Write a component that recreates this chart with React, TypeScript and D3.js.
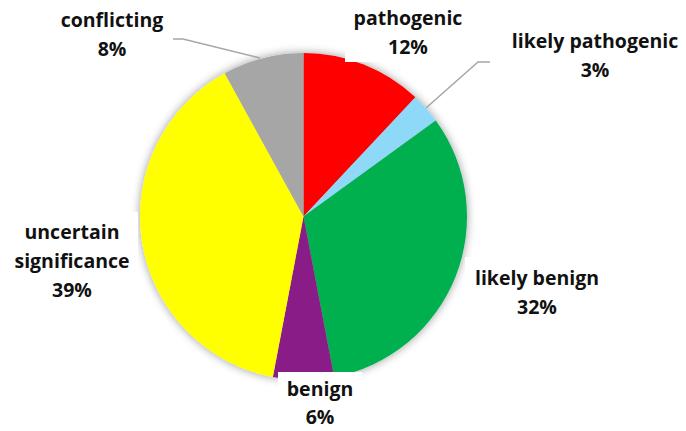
import React from "react";
import * as d3 from "d3";

const categories = ["pathogenic", "likely pathogenic", "likely benign", "benign", "uncertain significance", "conflicting"];
const values = [12, 3, 32, 6, 39, 8];
const colors = ["#FF0000", "#8ED8F8", "#00B050", "#8A1B87", "#FFFF00", "#A6A6A6"];

// label lines (text per row) and placement for each slice label
const labelLines = [
  ["pathogenic", "12%"],
  ["likely pathogenic", "3%"],
  ["likely benign", "32%"],
  ["benign", "6%"],
  ["uncertain", "significance", "39%"],
  ["conflicting", "8%"],
];
const labelPos: [number, number][] = [
  [408, 25],
  [595, 48],
  [537, 285],
  [320, 396],
  [72, 239],
  [112, 27],
];
const labelBox: [number, number, number, number][] = [
  [345, 0, 132, 62],
  [505, 28, 178, 58],
  [465, 257, 150, 66],
  [278, 372, 84, 59],
  [8, 212, 130, 94],
  [52, 4, 120, 60],
];
// leader lines: [elbow start, elbow, slice end]
const leaders: Record<number, [number, number][]> = {
  1: [[490, 62], [478, 62], [426, 108]],
  5: [[173, 39], [183, 39], [260, 58]],
};

const W = 686;
const H = 431;
const cx = 303.5;
const cy = 216.5;
const R = 163.5;
const lineH = 29;

export default function App() {
  const pie = d3.pie<number>().sort(null).value((d) => d)(values);
  const arc = d3.arc<d3.PieArcDatum<number>>().innerRadius(0).outerRadius(R);
  const line = d3.line();

  return (
    <svg width={W} height={H} style={{ position: "absolute", left: 0, top: 0 }}>
      <defs>
        <filter id="pieShadow" x="-20%" y="-20%" width="140%" height="140%">
          <feGaussianBlur in="SourceAlpha" stdDeviation="5" />
          <feComponentTransfer>
            <feFuncA type="linear" slope="0.4" />
          </feComponentTransfer>
          <feMerge>
            <feMergeNode />
            <feMergeNode in="SourceGraphic" />
          </feMerge>
        </filter>
      </defs>
      <rect width={W} height={H} fill="#fff" />
      <g transform={`translate(${cx},${cy})`} filter="url(#pieShadow)">
        {pie.map((p, i) => (
          <path key={categories[i]} d={arc(p) ?? ""} fill={colors[i]} />
        ))}
      </g>
      {labelBox.map((b, i) => (
        <rect key={"box" + i} x={b[0]} y={b[1]} width={b[2]} height={b[3]} fill="#fff" />
      ))}
      {Object.entries(leaders).map(([k, pts]) => (
        <path key={"leader" + k} d={line(pts) ?? ""} fill="none" stroke="#A6A6A6" strokeWidth={1.5} />
      ))}
      {labelLines.map((rows, i) => (
        <text
          key={"lbl" + i}
          textAnchor="middle"
          fontFamily="'Open Sans', sans-serif"
          fontWeight="bold"
          fontSize={19.5}
          fill="#111"
        >
          {rows.map((r, j) => (
            <tspan key={j} x={labelPos[i][0]} y={labelPos[i][1] + j * (i === 3 ? 28 : lineH)}>
              {r}
            </tspan>
          ))}
        </text>
      ))}
    </svg>
  );
}
